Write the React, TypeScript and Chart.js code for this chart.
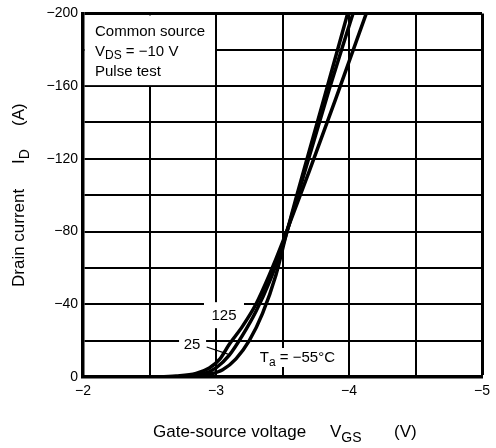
import React, { useEffect, useRef } from "react";
import { Chart, registerables } from "chart.js";

Chart.register(...registerables);

// Gate-source voltage (V) and drain current (A) per ambient temperature
const VGS_125 = [-2.5, -2.7, -2.85, -2.95, -3.03, -3.1, -3.2, -3.3, -3.4, -3.5, -3.53, -3.7, -3.9, -4.13];
const ID_125 = [0, -0.6, -2, -5, -10, -18, -28, -40, -56, -74, -80, -113, -153, -200];

const VGS_25 = [-2.7, -2.9, -3.0, -3.1, -3.2, -3.3, -3.4, -3.5, -3.53, -3.7, -3.85, -4.03];
const ID_25 = [0, -1.5, -5, -12, -23, -36, -52, -72, -79, -121, -158, -200];

const VGS_M55 = [-2.8, -2.95, -3.05, -3.15, -3.25, -3.35, -3.45, -3.53, -3.6, -3.7, -3.8, -3.99];
const ID_M55 = [0, -1.5, -4, -10, -20, -35, -56, -79, -98, -124, -150, -200];

const X_MIN = -5;
const X_MAX = -2;
const X_STEP = 0.5;
const Y_MIN = -200;
const Y_MAX = 0;
const Y_STEP = 20;
const X_LABEL_EVERY = 1;
const Y_LABEL_EVERY = 40;

const INFO_LINES = ["Common source", "VDS = −10 V", "Pulse test"];
const TEMP_LABELS = ["125", "25", "Ta = −55°C"];

const FONT = '"Liberation Sans", Arial, sans-serif';

function toPts(xs: number[], ys: number[]) {
  return xs.map((x, i) => ({ x, y: ys[i] }));
}

function fmt(v: number) {
  if (v === 0) return "0";
  return (v < 0 ? "−" : "") + String(Math.abs(v));
}

function drawSub(ctx: CanvasRenderingContext2D, x: number, y: number, main: string, sub: string, size: number, subSize: number) {
  ctx.font = `${size}px ${FONT}`;
  ctx.fillText(main, x, y);
  const w = ctx.measureText(main).width;
  ctx.font = `${subSize}px ${FONT}`;
  ctx.fillText(sub, x + w, y + size * 0.28);
  const ws = ctx.measureText(sub).width;
  return x + w + ws;
}

const overlayPlugin = {
  id: "overlay",
  beforeDatasetsDraw(chart: any) {
    const { ctx, scales } = chart;
    const xs = scales.x;
    const ys = scales.y;
    ctx.save();
    ctx.fillStyle = "#fff";
    const l = xs.getPixelForValue(-2) + 2;
    const r = xs.getPixelForValue(-3) - 1;
    const t = ys.getPixelForValue(-200) + 2;
    const b = ys.getPixelForValue(-160) - 1;
    ctx.fillRect(l, t, r - l, b - t);
    const p125x = xs.getPixelForValue(-3.06);
    const p125y = ys.getPixelForValue(-34);
    ctx.fillRect(p125x - 20, p125y - 13, 40, 26);
    const p25x = xs.getPixelForValue(-2.82);
    const p25y = ys.getPixelForValue(-18);
    ctx.fillRect(p25x - 13, p25y - 10, 27, 20);
    const pTx = xs.getPixelForValue(-3.6);
    const pTy = ys.getPixelForValue(-11);
    ctx.fillRect(pTx - 40, pTy - 9, 80, 19);
    ctx.restore();
  },
  afterDatasetsDraw(chart: any) {
    const { ctx, scales, chartArea } = chart;
    const xs = scales.x;
    const ys = scales.y;
    ctx.save();
    ctx.fillStyle = "#000";
    ctx.strokeStyle = "#000";
    ctx.textBaseline = "middle";
    ctx.textAlign = "left";
    const tx = chartArea.left + 12;
    ctx.font = `15px ${FONT}`;
    ctx.fillText(INFO_LINES[0], tx, chartArea.top + 18);
    let nx = drawSub(ctx, tx, chartArea.top + 38, "V", "DS", 15, 12);
    ctx.font = `15px ${FONT}`;
    ctx.fillText(INFO_LINES[1].slice(3), nx, chartArea.top + 38);
    ctx.fillText(INFO_LINES[2], tx, chartArea.top + 58);

    ctx.textAlign = "center";
    ctx.font = `15px ${FONT}`;
    ctx.fillText(TEMP_LABELS[0], xs.getPixelForValue(-3.06), ys.getPixelForValue(-34) + 1);
    ctx.fillText(TEMP_LABELS[1], xs.getPixelForValue(-2.82), ys.getPixelForValue(-18) + 1);
    ctx.lineWidth = 1.2;
    ctx.beginPath();
    ctx.moveTo(xs.getPixelForValue(-2.93), ys.getPixelForValue(-16.5));
    ctx.lineTo(xs.getPixelForValue(-3.09), ys.getPixelForValue(-12.6));
    ctx.stroke();
    ctx.textAlign = "left";
    const tax = xs.getPixelForValue(-3.6) - 36;
    const tay = ys.getPixelForValue(-11) + 1;
    nx = drawSub(ctx, tax, tay, "T", "a", 15, 12);
    ctx.font = `15px ${FONT}`;
    ctx.fillText(TEMP_LABELS[2].slice(2), nx, tay);

    ctx.textBaseline = "alphabetic";
    const by = chartArea.bottom + 60;
    ctx.font = `17px ${FONT}`;
    ctx.fillText("Gate-source voltage", 153, by);
    nx = drawSub(ctx, 330, by, "V", "GS", 17, 14);
    ctx.font = `17px ${FONT}`;
    ctx.fillText("(V)", 394, by);

    ctx.translate(24, 0);
    ctx.rotate(-Math.PI / 2);
    ctx.font = `17px ${FONT}`;
    ctx.fillText("Drain current", -287, 0);
    drawSub(ctx, -164, 0, "I", "D", 17, 14);
    ctx.font = `17px ${FONT}`;
    ctx.fillText("(A)", -126, 0);
    ctx.restore();
  },
};

export default function App() {
  const ref = useRef<HTMLCanvasElement | null>(null);
  useEffect(() => {
    if (!ref.current) return;
    const ds = (xs: number[], ys: number[]) => ({
      data: toPts(xs, ys),
      showLine: true,
      borderColor: "#000",
      borderWidth: 3.5,
      pointRadius: 0,
      cubicInterpolationMode: "monotone" as const,
      fill: false,
    });
    const chart = new Chart(ref.current, {
      type: "scatter",
      data: {
        datasets: [ds(VGS_125, ID_125), ds(VGS_25, ID_25), ds(VGS_M55, ID_M55)],
      },
      options: {
        animation: false,
        responsive: true,
        maintainAspectRatio: false,
        layout: { padding: { top: 13, right: 11, left: 0, bottom: 0 } },
        plugins: { legend: { display: false }, tooltip: { enabled: false } },
        scales: {
          x: {
            type: "linear",
            reverse: true,
            min: X_MIN,
            max: X_MAX,
            afterFit: (s: any) => {
              s.height = 71;
            },
            ticks: {
              stepSize: X_STEP,
              padding: 6,
              color: "#000",
              font: { family: FONT, size: 14 },
              maxRotation: 0,
              autoSkip: false,
              callback: (v: any) => (Math.abs(v % X_LABEL_EVERY) < 1e-9 ? fmt(v) : ""),
            },
            grid: {
              color: "#000",
              lineWidth: (c: any) => (c.tick && c.tick.value === X_MIN ? 3 : 2),
              drawTicks: false,
            },
            border: { display: true, color: "#000", width: 3.5 },
          },
          y: {
            type: "linear",
            reverse: true,
            min: Y_MIN,
            max: Y_MAX,
            afterFit: (s: any) => {
              s.width = 83;
            },
            ticks: {
              stepSize: Y_STEP,
              padding: 5,
              color: "#000",
              font: { family: FONT, size: 14 },
              autoSkip: false,
              callback: (v: any) => (Math.abs(v % Y_LABEL_EVERY) < 1e-9 ? fmt(v) : ""),
            },
            grid: {
              color: "#000",
              lineWidth: (c: any) => (c.tick && c.tick.value === Y_MIN ? 3 : 2),
              drawTicks: false,
            },
            border: { display: true, color: "#000", width: 3.5 },
          },
        },
      },
      plugins: [overlayPlugin],
    });
    return () => chart.destroy();
  }, []);
  return (
    <div style={{ position: "fixed", left: 0, top: 0, width: 496, height: 448, background: "#fff" }}>
      <canvas ref={ref} />
    </div>
  );
}
